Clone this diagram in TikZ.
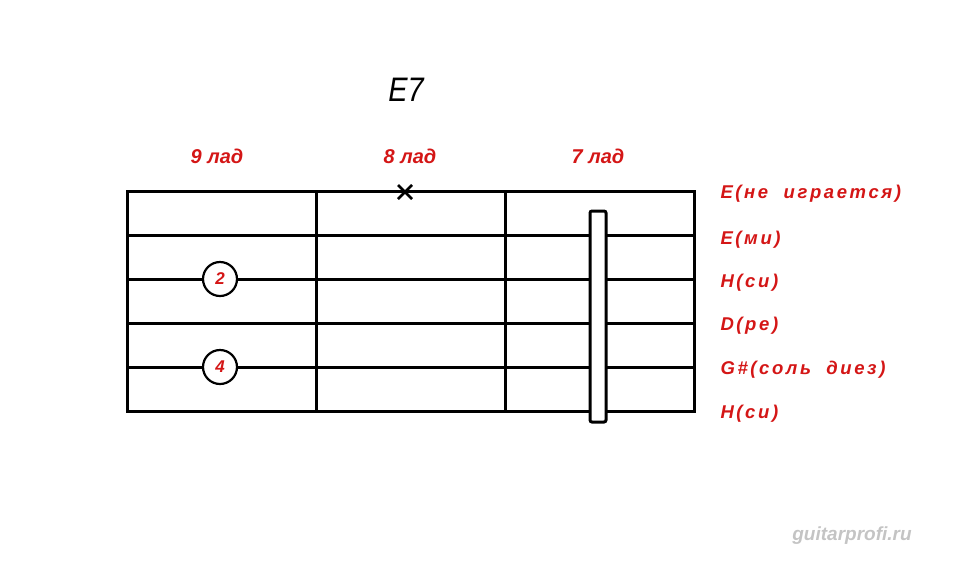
\documentclass[tikz,border=0pt]{standalone}
\usepackage{fontspec}
\setmainfont{Liberation Sans}
\newfontfamily\labfont[LetterSpace=14]{Liberation Sans}
\usetikzlibrary{positioning}

\definecolor{chordred}{RGB}{212,22,22}
\definecolor{markgray}{RGB}{196,196,196}

\tikzset{
  strline/.style={line width=3pt},
  fretline/.style={line width=3pt},
  fingerdot/.style={circle, draw, line width=2.2pt, fill=white, minimum size=34pt,
        inner sep=0pt, text=chordred, font=\bfseries\itshape\fontsize{17}{17}\selectfont},
  fretlabel/.style={anchor=base, text=chordred, font=\bfseries\itshape\fontsize{20}{20}\selectfont},
  stringlabel/.style={anchor=base west, text=chordred, font=\labfont\bfseries\itshape\fontsize{18.5}{18.5}\selectfont}
}

\begin{document}
\begin{tikzpicture}[x=1pt, y=-1pt]
  \useasboundingbox (0,0) rectangle (958,563);
  \def\xl{127}
  \def\xr{694}

  % strings
  \foreach \s/\yy in {1/191, 2/235, 3/279, 4/323, 5/367, 6/411}
    \draw[strline] (\xl,\yy) -- (\xr,\yy);
  % frets
  \foreach \xx in {127, 316, 505, 694}
    \draw[fretline, line cap=rect] (\xx,191) -- (\xx,411);

  % title
  \node[anchor=base, font=\itshape\fontsize{34}{34}\selectfont, xscale=0.85] (title) at (406,101) {E7};

  % fret numbers
  \node[fretlabel] (lad9) at (217,163) {9 лад};
  \node[fretlabel] (lad8) at (410,163) {8 лад};
  \node[fretlabel] (lad7) at (598,163) {7 лад};

  % muted string
  \draw[line width=2.6pt] (398,185) -- (412,199) (398,199) -- (412,185);

  % barre
  \draw[line width=3pt, fill=white, rounded corners=2pt] (590,211) rectangle (606,422);

  % fingers
  \node[fingerdot] (f2) at (220,279) {2};
  \node[fingerdot] (f4) at (220,367) {4};

  % string names
  \node[stringlabel] (s1) at (717,198) {E(не\ \ играется)};
  \node[stringlabel] (s2) at (717,244) {E(ми)};
  \node[stringlabel] (s3) at (717,287) {H(си)};
  \node[stringlabel] (s4) at (717,330) {D(ре)};
  \node[stringlabel] (s5) at (717,374) {G\#(соль\ \ диез)};
  \node[stringlabel] (s6) at (717,418) {H(си)};

  \node[anchor=base, text=markgray, font=\bfseries\itshape\fontsize{19}{19}\selectfont] (site) at (852,540) {guitarprofi.ru};
\end{tikzpicture}
\end{document}
